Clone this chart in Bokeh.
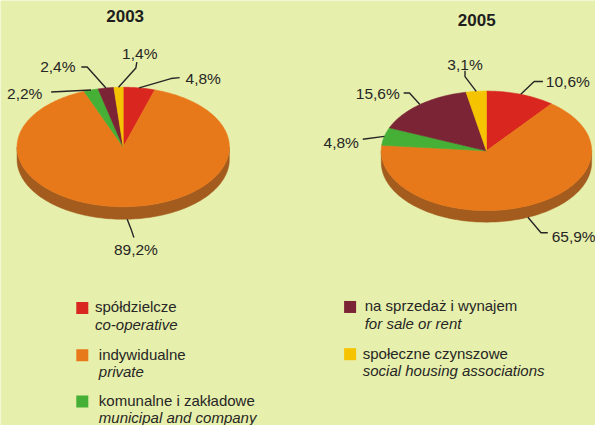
import numpy as np
from bokeh.plotting import figure
from bokeh.models import Range1d, ColumnDataSource
from bokeh.embed import file_html
from bokeh.resources import INLINE
from bokeh.core.properties import value

# ---------------- data ----------------
years = ["2003", "2005"]
categories_pl = ["spółdzielcze", "indywidualne", "komunalne i zakładowe",
                 "na sprzedaż i wynajem", "społeczne czynszowe"]
categories_en = ["co-operative", "private", "municipal and company",
                 "for sale or rent", "social housing associations"]
shares_2003 = [4.8, 89.2, 2.2, 2.4, 1.4]
shares_2005 = [10.6, 65.9, 4.8, 15.6, 3.1]

# ---------------- style ----------------
colors = ["#d9261f", "#e8791a", "#45b035", "#7b2435", "#f6c300"]
side_colors = ["#9c1d18", "#a45b1e", "#2f7d25", "#561927", "#b08c00"]
bg = "#e6efab"
txt = "#262626"
FONT = "Liberation Sans"
FS_LAB = "15.5px"
FS_LEG = "15px"

# pie layout (cx, cy, rx, ry, depth, title_x, title_y)
pies = {
    "2003": dict(cx=126, cy=152, rx=109, ry=62, d=13, tx=128, ty=16),
    "2005": dict(cx=499, cy=156, rx=108, ry=62, d=12, tx=489, ty=20),
}
# label layout: (text_x, text_y, align, [leader points after slice edge])
label_layout = {
    "2003": [
        (190, 81, "left", [(175, 81), (184, 80)]),
        (139, 258, "center", [(134, 237), (137, 246)]),
        (43, 97, "right", [(52, 95)]),
        (77, 69, "right", [(89, 69), (83, 69)]),
        (143, 55, "center", [(139, 70), (140, 64)]),
    ],
    "2005": [
        (560, 84, "left", [(548, 84), (557, 84)]),
        (566, 245, "left", [(555, 241), (562, 241)]),
        (368, 147, "right", [(372, 144)]),
        (410, 97, "right", [(420, 96), (414, 96)]),
        (477, 66, "center", [(477, 79), (477, 73)]),
    ],
}
legend_pos = [(84, 319, 97), (84, 368, 101), (84, 416, 101), (359, 318, 374), (359, 367, 372)]

p = figure(width=595, height=425, x_range=Range1d(0, 611), y_range=Range1d(441, 0),
           output_backend="svg", toolbar_location=None, min_border=0,
           background_fill_color=bg, border_fill_color=bg)
p.axis.visible = False
p.grid.visible = False
p.outline_line_color = None


def pt(g, phi, drop=0.0):
    return g["cx"] + g["rx"] * np.sin(phi), g["cy"] - g["ry"] * np.cos(phi) + drop


for year, shares in zip(years, [shares_2003, shares_2005]):
    g = pies[year]
    ends = np.cumsum(shares) / sum(shares) * 2 * np.pi
    starts = np.concatenate([[0], ends[:-1]])

    # side (front half: phi from pi/2 to 3pi/2)
    sx, sy, sc = [], [], []
    for a0, a1, c in zip(starts, ends, side_colors):
        lo, hi = max(a0, np.pi / 2), min(a1, 3 * np.pi / 2)
        if hi <= lo:
            continue
        ph = np.linspace(lo, hi, 120)
        x1, y1 = pt(g, ph)
        x2, y2 = pt(g, ph[::-1], g["d"])
        sx.append(list(np.concatenate([x1, x2])))
        sy.append(list(np.concatenate([y1, y2])))
        sc.append(c)
    p.patches(sx, sy, fill_color=sc, line_color=sc, line_width=0.5)

    # top slices
    tx, ty = [], []
    for a0, a1 in zip(starts, ends):
        ph = np.linspace(a0, a1, max(4, int((a1 - a0) * 60)))
        x, y = pt(g, ph)
        tx.append([g["cx"]] + list(x))
        ty.append([g["cy"]] + list(y))
    p.patches(tx, ty, fill_color=colors, line_color=colors, line_width=0.6)

    # title
    p.text([g["tx"]], [g["ty"]], text=[year], text_font=value(FONT), text_font_size="17px",
           text_font_style="bold", text_color="#1e1e1e", text_align="center",
           text_baseline="middle")

    # labels and leaders
    lx, ly, lxs, lys, ltxt, lal = [], [], [], [], [], []
    for (a0, a1, s, lay) in zip(starts, ends, shares, label_layout[year]):
        mid = (a0 + a1) / 2
        drop = g["d"] if np.pi / 2 < mid < 3 * np.pi / 2 else 0
        x0, y0 = pt(g, mid, drop)
        xs_ = [x0] + [q[0] for q in lay[3]]
        ys_ = [y0] + [q[1] for q in lay[3]]
        lxs.append(xs_)
        lys.append(ys_)
        lx.append(lay[0])
        ly.append(lay[1])
        ltxt.append(f"{s:.1f}".replace(".", ",") + "%")
        lal.append(lay[2])
    p.multi_line(lxs, lys, line_color="#262626", line_width=1.4)
    src = ColumnDataSource(dict(x=lx, y=ly, t=ltxt, a=lal))
    p.text("x", "y", text="t", text_align="a", source=src, text_font=value(FONT),
           text_font_size=FS_LAB, text_color=txt, text_baseline="middle")

# legend
p.scatter([q[0] for q in legend_pos], [q[1] for q in legend_pos], marker="square",
          size=12, fill_color=colors, line_color=None)
p.text([q[2] for q in legend_pos], [q[1] - 1 for q in legend_pos], text=categories_pl,
       text_font=value(FONT), text_font_size=FS_LEG, text_color=txt, text_baseline="middle")
p.text([q[2] for q in legend_pos], [q[1] + 17 for q in legend_pos], text=categories_en,
       text_font=value(FONT), text_font_size=FS_LEG, text_font_style="italic",
       text_color=txt, text_baseline="middle")

open("out.html", "w").write(file_html(p, INLINE))
